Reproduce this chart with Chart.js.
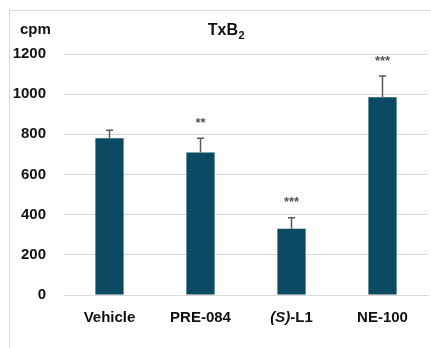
<!DOCTYPE html>
<html>
<head>
<meta charset="utf-8">
<script src="https://cdn.jsdelivr.net/npm/chart.js@4"></script>
<style>
  html, body { margin: 0; padding: 0; background: #ffffff; }
  #wrap { width: 431px; height: 348px; position: relative; }
</style>
</head>
<body>
<div id="wrap"><canvas id="c" width="431" height="348"></canvas></div>
<script>
// TxB2 release per treatment group (cpm), mean with upper SEM
const categories = ["Vehicle", "PRE-084", "(S)-L1", "NE-100"];
const means = [780, 710, 330, 985];
const sems = [40, 70, 55, 105];
const significance = ["", "**", "***", "***"];
const yTicks = [0, 200, 400, 600, 800, 1000, 1200];

const FONT = "'Liberation Sans', Arial, sans-serif";
const BAR_COLOR = "#0b4a62";
const GRID_COLOR = "#d9d9d9";

const extras = {
  id: "extras",
  beforeDraw(chart) {
    const ctx = chart.ctx;
    ctx.save();
    ctx.strokeStyle = "#d9d9d9";
    ctx.lineWidth = 1;
    ctx.strokeRect(9.5, 10.5, 600, 600);
    ctx.restore();
  },
  afterDatasetsDraw(chart) {
    const ctx = chart.ctx;
    const xs = chart.scales.x, ys = chart.scales.y;
    ctx.save();
    // upper error bars
    ctx.strokeStyle = "#5a5a5a";
    ctx.lineWidth = 1.5;
    means.forEach((m, i) => {
      const x = xs.getPixelForValue(i);
      const y0 = ys.getPixelForValue(m);
      const y1 = ys.getPixelForValue(m + sems[i]);
      ctx.beginPath();
      ctx.moveTo(x, y0);
      ctx.lineTo(x, y1);
      ctx.moveTo(x - 3.5, y1);
      ctx.lineTo(x + 3.5, y1);
      ctx.stroke();
      // significance stars
      if (significance[i]) {
        ctx.fillStyle = "#4a5560";
        ctx.font = "bold 13px " + FONT;
        ctx.textAlign = "center";
        ctx.textBaseline = "middle";
        ctx.fillText(significance[i], x, y1 - 15);
      }
    });
    // category labels, with italic stereodescriptor
    ctx.fillStyle = "#111111";
    ctx.textBaseline = "alphabetic";
    const ly = 322;
    categories.forEach((lab, i) => {
      const x = xs.getPixelForValue(i);
      const m = lab.match(/^(\(S\))(.*)$/);
      if (m) {
        ctx.font = "italic bold 15px " + FONT;
        const w1 = ctx.measureText(m[1]).width;
        ctx.font = "bold 15px " + FONT;
        const w2 = ctx.measureText(m[2]).width;
        let sx = x - (w1 + w2) / 2;
        ctx.textAlign = "left";
        ctx.font = "italic bold 15px " + FONT;
        ctx.fillText(m[1], sx, ly);
        ctx.font = "bold 15px " + FONT;
        ctx.fillText(m[2], sx + w1, ly);
      } else {
        ctx.font = "bold 15px " + FONT;
        ctx.textAlign = "center";
        ctx.fillText(lab, x, ly);
      }
    });
    // axis unit and title
    ctx.textAlign = "left";
    ctx.font = "bold 15px " + FONT;
    ctx.fillText("cpm", 20, 34);
    ctx.font = "bold 16px " + FONT;
    const tw = ctx.measureText("TxB").width;
    ctx.font = "bold 11px " + FONT;
    const sw = ctx.measureText("2").width;
    const tx = 226 - (tw + sw) / 2;
    ctx.font = "bold 16px " + FONT;
    ctx.fillText("TxB", tx, 35);
    ctx.font = "bold 11px " + FONT;
    ctx.fillText("2", tx + tw + 0.5, 39);
    ctx.restore();
  }
};

new Chart(document.getElementById("c"), {
  type: "bar",
  data: {
    labels: categories,
    datasets: [{
      data: means,
      backgroundColor: BAR_COLOR,
      borderWidth: 0,
      barPercentage: 1,
      categoryPercentage: 0.31
    }]
  },
  options: {
    responsive: false,
    animation: false,
    devicePixelRatio: 1,
    layout: { padding: { left: 10, right: 3, top: 54, bottom: 0 } },
    plugins: { legend: { display: false }, tooltip: { enabled: false } },
    scales: {
      x: {
        grid: { display: false, drawTicks: false },
        border: { display: true, color: GRID_COLOR, width: 1 },
        ticks: { display: false },
        afterFit(s) { s.height = 53; }
      },
      y: {
        min: 0,
        max: 1200,
        afterBuildTicks(s) { s.ticks = yTicks.map(v => ({ value: v })); },
        grid: { color: GRID_COLOR, lineWidth: 1, drawTicks: false },
        border: { display: false },
        ticks: {
          color: "#111111",
          font: { family: FONT, size: 15, weight: "bold" },
          padding: 18,
          callback: v => String(v)
        },
        afterFit(s) { s.width = 54; }
      }
    }
  },
  plugins: [extras]
});
</script>
</body>
</html>
